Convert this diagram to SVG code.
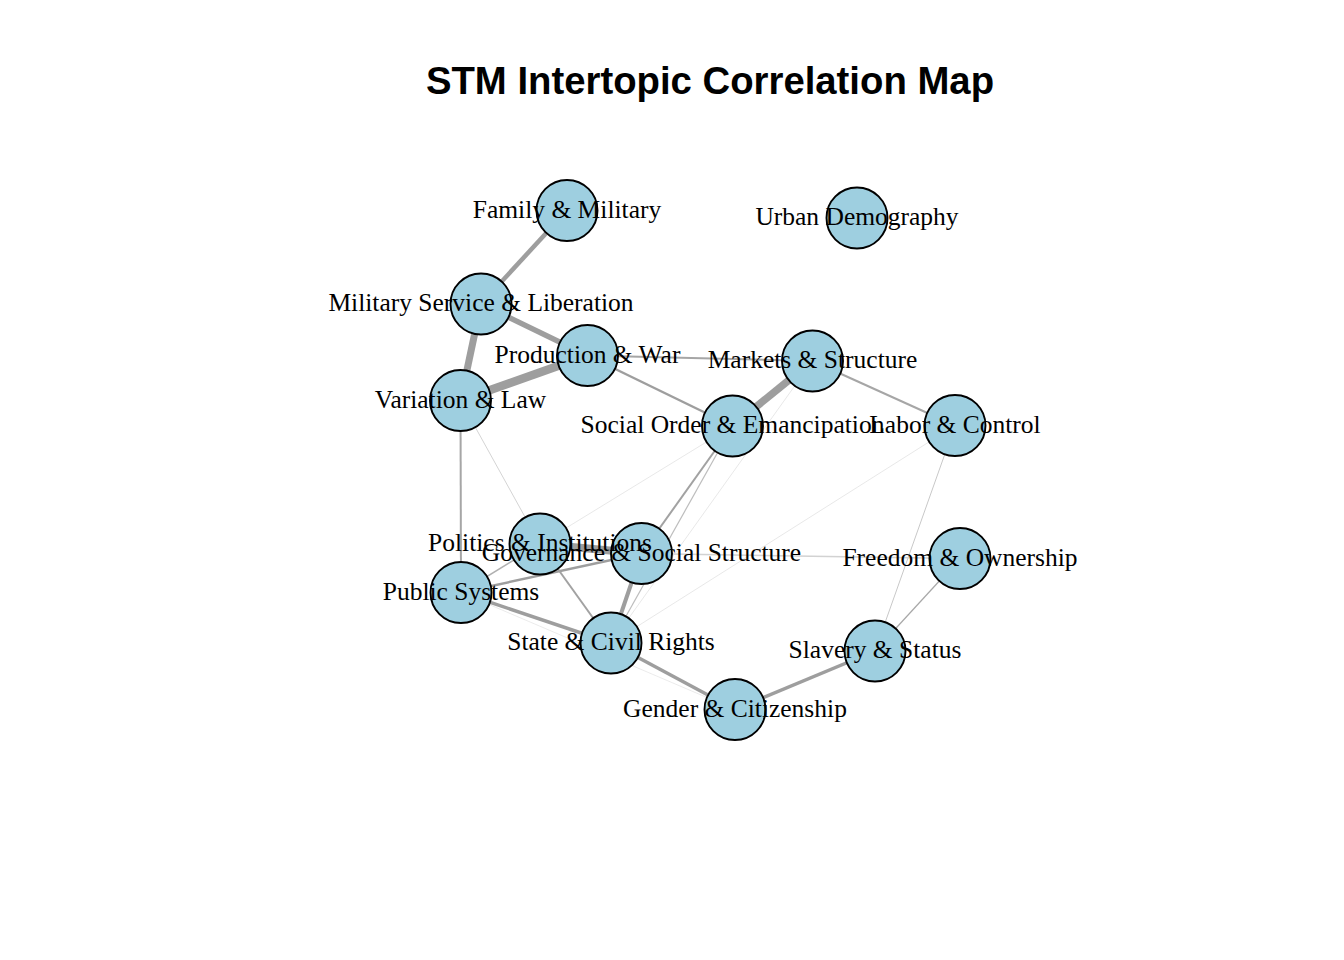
<svg xmlns="http://www.w3.org/2000/svg" width="1344" height="960" viewBox="0 0 1344 960">
<style>
.e{stroke:#9E9E9E;fill:none;stroke-linecap:butt}
.n circle{fill:#9ECFE0;stroke:#000;stroke-width:1.9}
.n text{font-family:"Liberation Serif","Times New Roman",serif;font-size:25.5px;fill:#000;text-anchor:middle}
.title{font-family:"Liberation Sans",Arial,sans-serif;font-weight:bold;font-size:38.3px;fill:#000;text-anchor:middle}
</style>
<rect width="1344" height="960" fill="#fff"/>
<text class="title" x="710" y="94">STM Intertopic Correlation Map</text>
<g id="edges">
<line class="e" x1="567" y1="210.5" x2="481" y2="304" stroke-width="4.5"/>
<line class="e" x1="481" y1="304" x2="587.5" y2="355.5" stroke-width="5.5"/>
<line class="e" x1="481" y1="304" x2="460.5" y2="400.5" stroke-width="7"/>
<line class="e" x1="587.5" y1="355.5" x2="460.5" y2="400.5" stroke-width="8.5"/>
<line class="e" x1="587.5" y1="355.5" x2="812.5" y2="361" stroke-width="2" style="stroke:#A6A6A6"/>
<line class="e" x1="587.5" y1="355.5" x2="732.5" y2="426" stroke-width="2.5"/>
<line class="e" x1="812.5" y1="361" x2="732.5" y2="426" stroke-width="7.5"/>
<line class="e" x1="812.5" y1="361" x2="955" y2="425.5" stroke-width="2" style="stroke:#A6A6A6"/>
<line class="e" x1="460.5" y1="400.5" x2="461" y2="592.5" stroke-width="2" style="stroke:#A6A6A6"/>
<line class="e" x1="460.5" y1="400.5" x2="540" y2="544" stroke-width="1" style="stroke:#D4D4D4"/>
<line class="e" x1="732.5" y1="426" x2="540" y2="544" stroke-width="0.8" style="stroke:#E2E2E2"/>
<line class="e" x1="732.5" y1="426" x2="641.5" y2="553.5" stroke-width="2" style="stroke:#A2A2A2"/>
<line class="e" x1="732.5" y1="426" x2="611" y2="643" stroke-width="1.2" style="stroke:#BDBDBD"/>
<line class="e" x1="812.5" y1="361" x2="611" y2="643" stroke-width="0.8" style="stroke:#E2E2E2"/>
<line class="e" x1="955" y1="425.5" x2="611" y2="643" stroke-width="0.8" style="stroke:#E2E2E2"/>
<line class="e" x1="955" y1="425.5" x2="875" y2="651" stroke-width="1" style="stroke:#C8C8C8"/>
<line class="e" x1="960" y1="558.5" x2="875" y2="651" stroke-width="1.2" style="stroke:#A8A8A8"/>
<line class="e" x1="641.5" y1="553.5" x2="960" y2="558.5" stroke-width="1.5" style="stroke:#D2D2D2"/>
<line class="e" x1="875" y1="651" x2="735" y2="709.5" stroke-width="3.5"/>
<line class="e" x1="611" y1="643" x2="735" y2="709.5" stroke-width="3.5"/>
<line class="e" x1="461" y1="592.5" x2="611" y2="643" stroke-width="3.5"/>
<line class="e" x1="461" y1="592.5" x2="735" y2="709.5" stroke-width="0.8" style="stroke:#E6E6E6"/>
<line class="e" x1="461" y1="592.5" x2="641.5" y2="553.5" stroke-width="2.5"/>
<line class="e" x1="461" y1="592.5" x2="540" y2="544" stroke-width="1.5" style="stroke:#B0B0B0"/>
<line class="e" x1="540" y1="544" x2="641.5" y2="553.5" stroke-width="8"/>
<line class="e" x1="540" y1="544" x2="611" y2="643" stroke-width="2" style="stroke:#A2A2A2"/>
<line class="e" x1="641.5" y1="553.5" x2="611" y2="643" stroke-width="4"/>
</g>
<g id="n-family-military" class="n"><circle cx="567" cy="210.5" r="30.5"/></g>
<g id="n-urban-demography" class="n"><circle cx="857" cy="218" r="30.5"/></g>
<g id="n-military-service" class="n"><circle cx="481" cy="304" r="30.5"/></g>
<g id="n-production-war" class="n"><circle cx="587.5" cy="355.5" r="30.5"/></g>
<g id="n-markets-structure" class="n"><circle cx="812.5" cy="361" r="30.5"/></g>
<g id="n-variation-law" class="n"><circle cx="460.5" cy="400.5" r="30.5"/></g>
<g id="n-social-order" class="n"><circle cx="732.5" cy="426" r="30.5"/></g>
<g id="n-labor-control" class="n"><circle cx="955" cy="425.5" r="30.5"/></g>
<g id="n-politics-institutions" class="n"><circle cx="540" cy="544" r="30.5"/></g>
<g id="n-governance" class="n"><circle cx="641.5" cy="553.5" r="30.5"/></g>
<g id="n-freedom-ownership" class="n"><circle cx="960" cy="558.5" r="30.5"/></g>
<g id="n-public-systems" class="n"><circle cx="461" cy="592.5" r="30.5"/></g>
<g id="n-state-civil-rights" class="n"><circle cx="611" cy="643" r="30.5"/></g>
<g id="n-slavery-status" class="n"><circle cx="875" cy="651" r="30.5"/></g>
<g id="n-gender-citizenship" class="n"><circle cx="735" cy="709.5" r="30.5"/></g>
<g id="labels" class="n">
<text x="567" y="217.5">Family &amp; Military</text>
<text x="857" y="225">Urban Demography</text>
<text x="481" y="311">Military Service &amp; Liberation</text>
<text x="587.5" y="362.5">Production &amp; War</text>
<text x="812.5" y="368">Markets &amp; Structure</text>
<text x="460.5" y="407.5">Variation &amp; Law</text>
<text x="732.5" y="433">Social Order &amp; Emancipation</text>
<text x="955" y="432.5">Labor &amp; Control</text>
<text x="540" y="551">Politics &amp; Institutions</text>
<text x="641.5" y="560.5">Governance &amp; Social Structure</text>
<text x="960" y="565.5">Freedom &amp; Ownership</text>
<text x="461" y="599.5">Public Systems</text>
<text x="611" y="650">State &amp; Civil Rights</text>
<text x="875" y="658">Slavery &amp; Status</text>
<text x="735" y="716.5">Gender &amp; Citizenship</text>
</g>
</svg>
